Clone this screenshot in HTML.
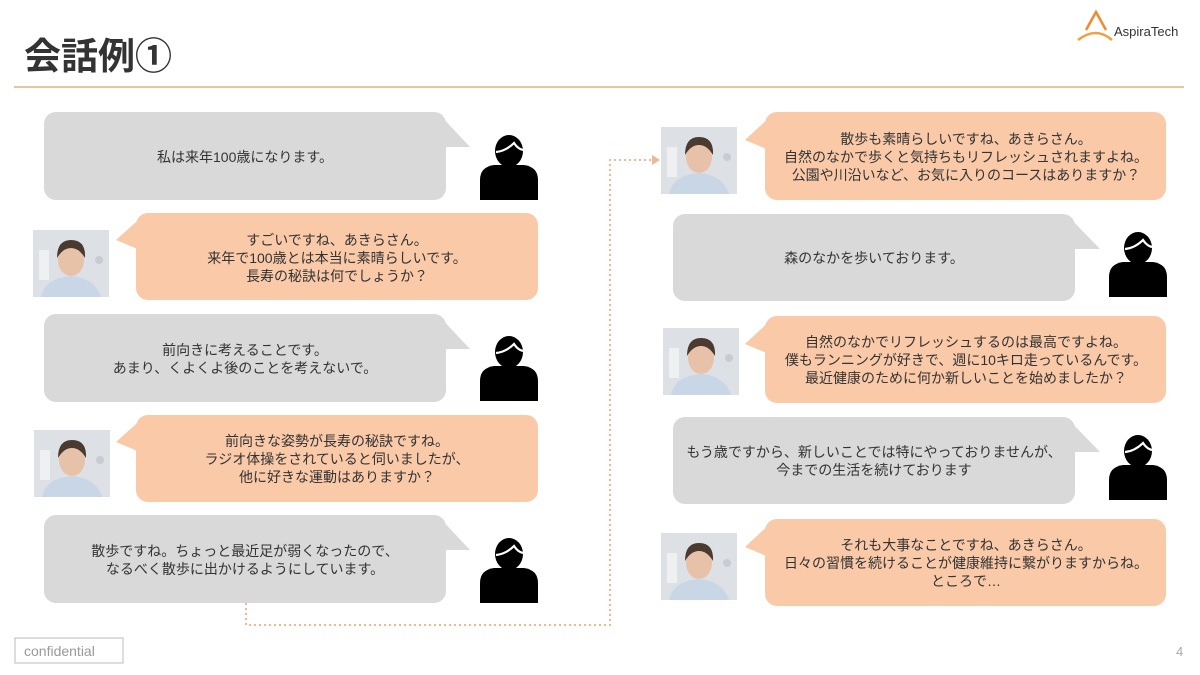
<!DOCTYPE html>
<html><head><meta charset="utf-8"><style>
html,body{margin:0;padding:0;background:#fff;}
svg{display:block}
text{font-family:"Liberation Sans","Noto Sans CJK JP",sans-serif;}
</style></head><body>
<svg width="1200" height="675" viewBox="0 0 1200 675" xmlns="http://www.w3.org/2000/svg">
<defs>
  <g id="person">
    <path d="M0,65 L0,45 Q0,32 14,30 L44,30 Q58,32 58,45 L58,65 Z" fill="#000"/>
    <ellipse cx="29" cy="16" rx="14" ry="16" fill="#000"/>
    <path d="M16,17 Q26,16 34,8 Q38,14 43,15" stroke="#fff" stroke-width="2.2" fill="none"/>
  </g>
  <g id="photo">
    <rect x="0" y="0" width="76" height="67" fill="#dde0e4"/>
    <rect x="6" y="20" width="10" height="30" fill="#eef0f2"/>
    <path d="M8,67 Q12,48 38,46 Q62,48 68,67 Z" fill="#c9d6e6"/>
    <ellipse cx="38" cy="30" rx="13" ry="16" fill="#e8c2a8"/>
    <path d="M24,28 Q24,10 38,10 Q53,10 52,28 Q46,18 38,18 Q30,18 24,28Z" fill="#4a3a30"/>
    <circle cx="66" cy="30" r="4" fill="#c8ccd2"/>
  </g>
</defs>

<text x="24" y="69" font-size="37" fill="#333" font-weight="bold">会話例①</text>
<line x1="14" y1="87" x2="1184" y2="87" stroke="#e8b07c" stroke-width="1.5"/>

<!-- logo -->
<path d="M1086,30 L1096,12 L1106,30" fill="none" stroke="#f08a30" stroke-width="2.5"/>
<path d="M1078,40 Q1096,26 1112,40" fill="none" stroke="#f0a040" stroke-width="2.5"/>
<text x="1114" y="36" font-size="13" fill="#333">AspiraTech</text>

<!-- connector -->
<polyline points="246,603 246,625 610,625 610,160 652,160" fill="none" stroke="#f0b890" stroke-width="2" stroke-dasharray="2,3"/>
<path d="M652,155 L660,160 L652,165 Z" fill="#f0b890"/>

<g font-size="14" fill="#333" text-anchor="middle">
<!-- left column -->
<rect x="44" y="112" width="402" height="88" rx="12" fill="#d9d9d9"/>
<path d="M438,113 L470,147 L446,147 Z" fill="#d9d9d9"/>
<text x="245" y="162">私は来年100歳になります。</text>
<use href="#person" x="480" y="135"/>

<rect x="136" y="213" width="402" height="87" rx="12" fill="#f9c9a8"/>
<path d="M144,215 L116,240 L140,250 Z" fill="#f9c9a8"/>
<text x="337" y="245">すごいですね、あきらさん。</text>
<text x="337" y="263">来年で100歳とは本当に素晴らしいです。</text>
<text x="337" y="281">長寿の秘訣は何でしょうか？</text>
<use href="#photo" x="33" y="230"/>

<rect x="44" y="314" width="402" height="88" rx="12" fill="#d9d9d9"/>
<path d="M438,315 L470,349 L446,349 Z" fill="#d9d9d9"/>
<text x="245" y="355">前向きに考えることです。</text>
<text x="245" y="373">あまり、くよくよ後のことを考えないで。</text>
<use href="#person" x="480" y="336"/>

<rect x="136" y="415" width="402" height="87" rx="12" fill="#f9c9a8"/>
<path d="M144,417 L116,442 L140,452 Z" fill="#f9c9a8"/>
<text x="337" y="446">前向きな姿勢が長寿の秘訣ですね。</text>
<text x="337" y="464">ラジオ体操をされていると伺いましたが、</text>
<text x="337" y="482">他に好きな運動はありますか？</text>
<use href="#photo" x="34" y="430"/>

<rect x="44" y="515" width="402" height="88" rx="12" fill="#d9d9d9"/>
<path d="M438,516 L470,550 L446,550 Z" fill="#d9d9d9"/>
<text x="245" y="556">散歩ですね。ちょっと最近足が弱くなったので、</text>
<text x="245" y="574">なるべく散歩に出かけるようにしています。</text>
<use href="#person" x="480" y="538"/>

<!-- right column -->
<rect x="765" y="112" width="401" height="88" rx="12" fill="#f9c9a8"/>
<path d="M773,114 L745,140 L769,150 Z" fill="#f9c9a8"/>
<text x="966" y="144">散歩も素晴らしいですね、あきらさん。</text>
<text x="966" y="162">自然のなかで歩くと気持ちもリフレッシュされますよね。</text>
<text x="966" y="180">公園や川沿いなど、お気に入りのコースはありますか？</text>
<use href="#photo" x="661" y="127"/>

<rect x="673" y="214" width="402" height="87" rx="12" fill="#d9d9d9"/>
<path d="M1067,215 L1100,249 L1075,249 Z" fill="#d9d9d9"/>
<text x="874" y="263">森のなかを歩いております。</text>
<use href="#person" x="1109" y="232"/>

<rect x="765" y="316" width="401" height="87" rx="12" fill="#f9c9a8"/>
<path d="M773,318 L745,344 L769,354 Z" fill="#f9c9a8"/>
<text x="966" y="347">自然のなかでリフレッシュするのは最高ですよね。</text>
<text x="966" y="365">僕もランニングが好きで、週に10キロ走っているんです。</text>
<text x="966" y="383">最近健康のために何か新しいことを始めましたか？</text>
<use href="#photo" x="663" y="328"/>

<rect x="673" y="417" width="402" height="87" rx="12" fill="#d9d9d9"/>
<path d="M1067,418 L1100,452 L1075,452 Z" fill="#d9d9d9"/>
<text x="874" y="457">もう歳ですから、新しいことでは特にやっておりませんが、</text>
<text x="874" y="475">今までの生活を続けております</text>
<use href="#person" x="1109" y="435"/>

<rect x="765" y="519" width="401" height="87" rx="12" fill="#f9c9a8"/>
<path d="M773,521 L745,547 L769,557 Z" fill="#f9c9a8"/>
<text x="966" y="550">それも大事なことですね、あきらさん。</text>
<text x="966" y="568">日々の習慣を続けることが健康維持に繋がりますからね。</text>
<text x="966" y="586">ところで…</text>
<use href="#photo" x="661" y="533"/>
</g>

<rect x="15" y="638" width="108" height="25" fill="#fff" stroke="#bbb" stroke-width="1"/>
<text x="24" y="656" font-size="14" fill="#999">confidential</text>
<text x="1176" y="656" font-size="13" fill="#aaa">4</text>
</svg>
</body></html>
